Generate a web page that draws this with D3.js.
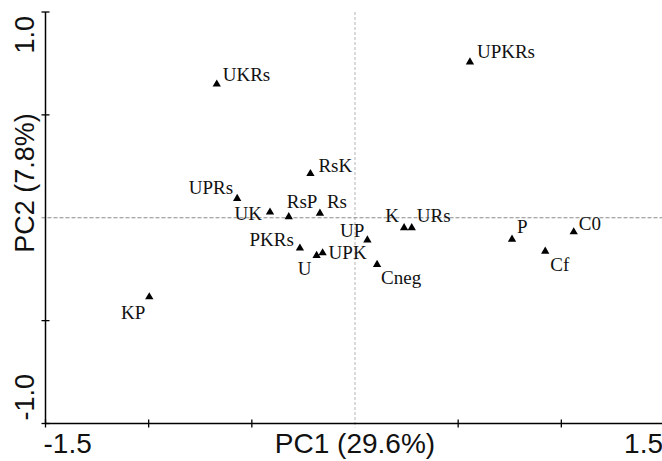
<!doctype html>
<head>
  <script src="https://cdnjs.cloudflare.com/ajax/libs/d3/7.8.5/d3.min.js"></script>
  <style>
    body { margin: 0; background: #fff; }
    svg { display: block; }
    .tick-label { font-family: "Liberation Sans", Arial, sans-serif; font-size: 28px; fill: #111; }
    .y-label { font-size: 27px; }
    .pt-label { font-family: "Liberation Serif", "Times New Roman", serif; font-size: 19px; fill: #111; }
  </style>
</head>
<body>
  <svg width="662" height="461"></svg>
  <script type="text/javascript">
    // sample names and their PC scores
    var names = ["UKRs", "UPKRs", "RsK", "UPRs", "UK", "RsP", "Rs", "K", "URs", "UP",
                 "PKRs", "U", "UPK", "Cneg", "P", "C0", "Cf", "KP"]
    var pc1 = [-0.670, 0.557, -0.216, -0.571, -0.412, -0.321, -0.170, 0.238, 0.275, 0.060,
               -0.267, -0.186, -0.157, 0.107, 0.761, 1.060, 0.922, -0.997]
    var pc2 = [0.649, 0.757, 0.214, 0.093, 0.027, 0.004, 0.022, -0.049, -0.049, -0.109,
               -0.148, -0.184, -0.171, -0.228, -0.105, -0.069, -0.163, -0.385]
    var xTicks = [-1.5, -1.0, -0.5, 0.5, 1.0, 1.5]
    var yTicks = [1.0, 0.5, -0.5, -1.0]
    var xTitle = "PC1 (29.6%)"
    var yTitle = "PC2 (7.8%)"

    // label offsets from the marker, [dx, dy, anchor]
    var labelPos = {
      UKRs: [6, -3, "start"], UPKRs: [7, -4, "start"], RsK: [8, -2, "start"],
      UPRs: [-4, -5, "end"], UK: [-8, 8, "end"], RsP: [-2, -9, "start"],
      Rs: [7, -5, "start"], K: [-5, -6, "end"], URs: [5, -6, "start"],
      UP: [-3, -3, "end"], PKRs: [-6, -2, "end"], U: [-12, 19, "middle"],
      UPK: [6, 6, "start"], Cneg: [4, 19, "start"], P: [5, -6, "start"],
      C0: [5, -2, "start"], Cf: [5, 20, "start"], KP: [-4, 22, "end"]
    }

    var data = names.map((n, i) => ({name: n, x: pc1[i], y: pc2[i]}))

    var svg = d3.select("svg")
    var x = d3.scaleLinear().domain([-1.5, 1.5]).range([45.5, 664.5])
    var y = d3.scaleLinear().domain([-1, 1]).range([423.5, 12])

    // dashed zero lines
    svg.append("line")
      .attr("x1", x(0)).attr("x2", x(0)).attr("y1", y(1)).attr("y2", y(-1) + 4)
      .style("stroke", "#b5b5b5").style("stroke-width", 1).style("stroke-dasharray", "3,2")
    svg.append("line")
      .attr("x1", x(-1.5) - 4).attr("x2", 662).attr("y1", y(0)).attr("y2", y(0))
      .style("stroke", "#8a8a8a").style("stroke-width", 1).style("stroke-dasharray", "4,2")

    // axes
    svg.append("line")
      .attr("x1", x(-1.5)).attr("x2", x(-1.5)).attr("y1", y(1)).attr("y2", y(-1))
      .style("stroke", "#000").style("stroke-width", 1.5)
    svg.append("line")
      .attr("x1", x(-1.5)).attr("x2", 662).attr("y1", y(-1)).attr("y2", y(-1))
      .style("stroke", "#000").style("stroke-width", 1.5)

    svg.selectAll(".xt").data(xTicks).enter().append("line")
      .attr("x1", d => x(d)).attr("x2", d => x(d))
      .attr("y1", y(-1) - 4).attr("y2", y(-1) + 4)
      .style("stroke", "#000").style("stroke-width", 1.3)
    svg.selectAll(".yt").data(yTicks).enter().append("line")
      .attr("x1", x(-1.5) - 4).attr("x2", x(-1.5) + 4)
      .attr("y1", d => y(d)).attr("y2", d => y(d))
      .style("stroke", "#000").style("stroke-width", 1.3)

    // tick labels: only the extremes are labelled
    svg.append("text").attr("class", "tick-label")
      .attr("x", x(-1.5) - 2).attr("y", 453).text("-1.5")
    svg.append("text").attr("class", "tick-label").attr("text-anchor", "end")
      .attr("x", 663).attr("y", 453).text("1.5")
    svg.append("text").attr("class", "tick-label").attr("text-anchor", "middle")
      .attr("x", x(0)).attr("y", 453).text(xTitle)

    svg.append("text").attr("class", "tick-label y-label").attr("text-anchor", "end")
      .attr("transform", "translate(34," + (y(1) + 4) + ") rotate(-90)").text("1.0")
    svg.append("text").attr("class", "tick-label y-label").attr("text-anchor", "start")
      .attr("transform", "translate(34," + (y(-1) - 3) + ") rotate(-90)").text("-1.0")
    svg.append("text").attr("class", "tick-label y-label").attr("text-anchor", "middle")
      .attr("transform", "translate(34,183) rotate(-90)").text(yTitle)

    // points
    var g = svg.selectAll(".pt").data(data).enter().append("g")
      .attr("transform", d => "translate(" + x(d.x) + "," + y(d.y) + ")")
    g.append("path")
      .attr("d", d3.symbol().type(d3.symbolTriangle).size(30))
      .style("fill", "#000")
    g.append("text").attr("class", "pt-label")
      .attr("x", d => labelPos[d.name][0])
      .attr("y", d => labelPos[d.name][1])
      .attr("text-anchor", d => labelPos[d.name][2])
      .text(d => d.name)
  </script>
</body>
</html>
